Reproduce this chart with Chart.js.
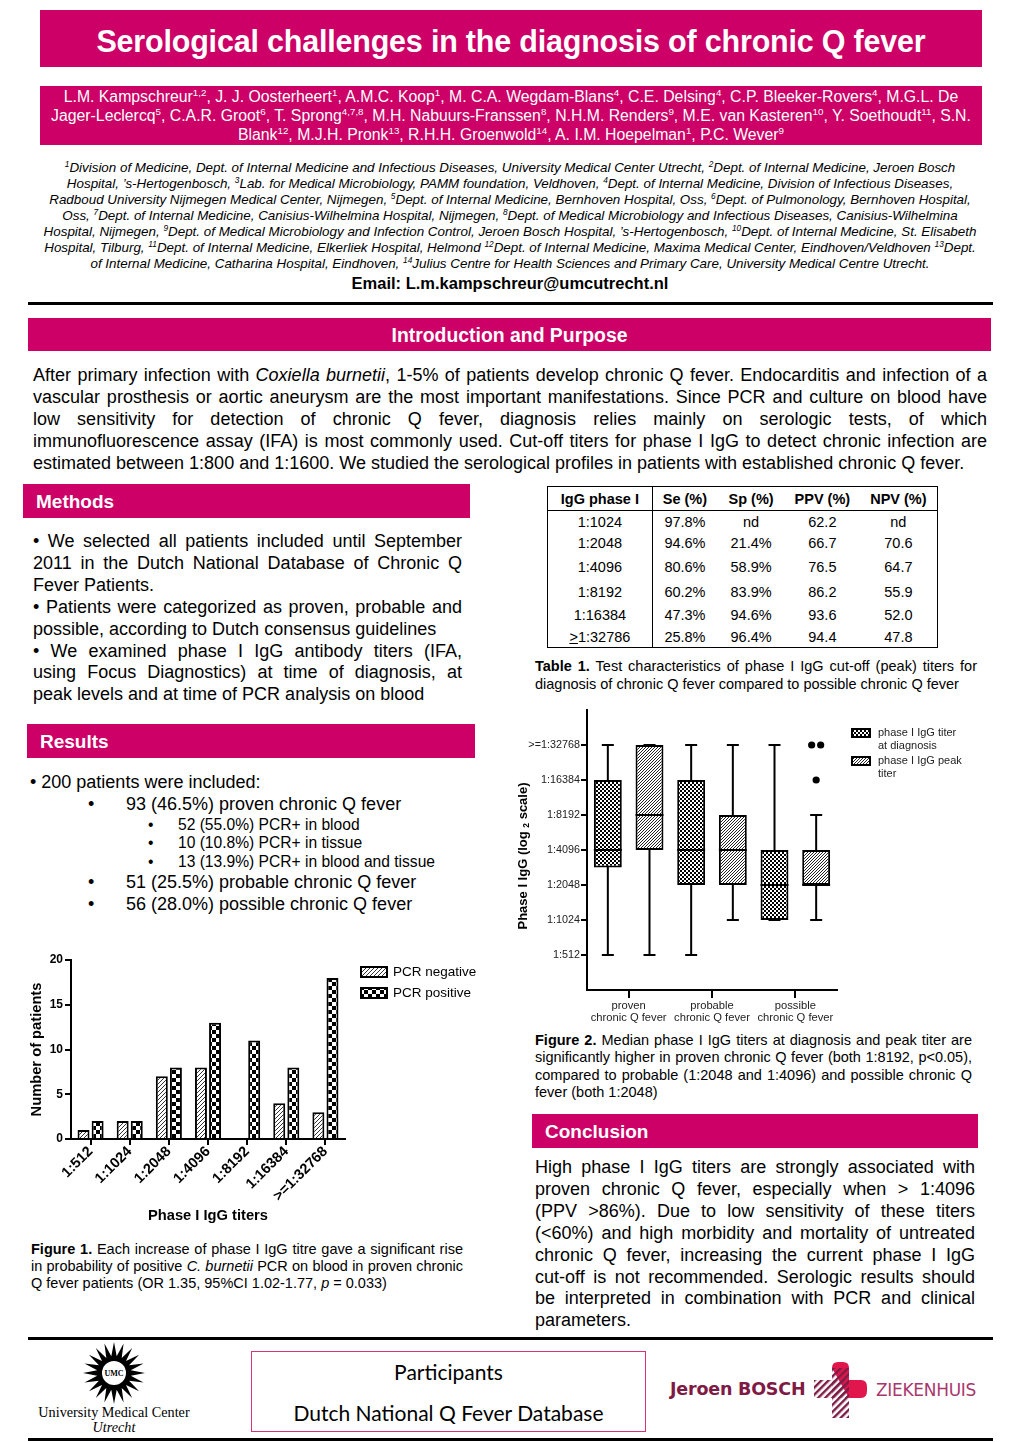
<!DOCTYPE html>
<html>
<head>
<meta charset="utf-8">
<script src="https://cdn.jsdelivr.net/npm/chart.js@4.4.1/dist/chart.umd.min.js"></script>
<style>
  body { margin: 0; background: #fff; font-family: "Liberation Sans", Arial, sans-serif; color: #000; }
  #page { position: relative; width: 1020px; height: 1442px; overflow: hidden; }
  .abs { position: absolute; }
  .band { position: absolute; background: #cc0066; color: #fff; }
  .rule { position: absolute; background: #000; height: 3px; left: 28px; width: 965px; }
  .jl { text-align: justify; text-align-last: justify; }
  .ll { text-align: left; }
  sup { font-size: 62%; line-height: 0; vertical-align: super; }
  #t1 { border-collapse: collapse; font-size: 14.5px; }
  #t1 th, #t1 td { text-align: center; padding: 0; }
  #t1 th { height: 23px; border-bottom: 1px solid #000; }
  #t1 td:first-child, #t1 th:first-child { border-right: 1px solid #000; }
</style>
</head>
<body>
<div id="page">
  <!-- header -->
  <div class="band" style="left:40px;top:10px;width:942px;height:57px;line-height:62px;text-align:center;font-weight:bold;font-size:30.5px;letter-spacing:-0.2px;">Serological challenges in the diagnosis of chronic Q fever</div>
  <div class="band" style="left:40px;top:86px;width:942px;height:59px;font-size:15.8px;line-height:19px;text-align:center;padding-top:1px;box-sizing:border-box;white-space:nowrap;">
    L.M. Kampschreur<sup>1,2</sup>, J. J. Oosterheert<sup>1</sup>, A.M.C. Koop<sup>1</sup>, M. C.A. Wegdam-Blans<sup>4</sup>, C.E. Delsing<sup>4</sup>, C.P. Bleeker-Rovers<sup>4</sup>, M.G.L. De<br>
    Jager-Leclercq<sup>5</sup>, C.A.R. Groot<sup>6</sup>, T. Sprong<sup>4,7,8</sup>, M.H. Nabuurs-Franssen<sup>8</sup>, N.H.M. Renders<sup>9</sup>, M.E. van Kasteren<sup>10</sup>, Y. Soethoudt<sup>11</sup>, S.N.<br>
    Blank<sup>12</sup>, M.J.H. Pronk<sup>13</sup>, R.H.H. Groenwold<sup>14</sup>, A. I.M. Hoepelman<sup>1</sup>, P.C. Wever<sup>9</sup>
  </div>
  <div class="abs" style="left:10px;top:160px;width:1000px;font-size:13.4px;font-style:italic;line-height:16px;text-align:center;white-space:nowrap;">
    <sup>1</sup>Division of Medicine, Dept. of Internal Medicine and Infectious Diseases, University Medical Center Utrecht, <sup>2</sup>Dept. of Internal Medicine, Jeroen Bosch<br>
    Hospital, ’s-Hertogenbosch, <sup>3</sup>Lab. for Medical Microbiology, PAMM foundation, Veldhoven, <sup>4</sup>Dept. of Internal Medicine, Division of Infectious Diseases,<br>
    Radboud University Nijmegen Medical Center, Nijmegen, <sup>5</sup>Dept. of Internal Medicine, Bernhoven Hospital, Oss, <sup>6</sup>Dept. of Pulmonology, Bernhoven Hospital,<br>
    Oss, <sup>7</sup>Dept. of Internal Medicine, Canisius-Wilhelmina Hospital, Nijmegen, <sup>8</sup>Dept. of Medical Microbiology and Infectious Diseases, Canisius-Wilhelmina<br>
    Hospital, Nijmegen, <sup>9</sup>Dept. of Medical Microbiology and Infection Control, Jeroen Bosch Hospital, ’s-Hertogenbosch, <sup>10</sup>Dept. of Internal Medicine, St. Elisabeth<br>
    Hospital, Tilburg, <sup>11</sup>Dept. of Internal Medicine, Elkerliek Hospital, Helmond <sup>12</sup>Dept. of Internal Medicine, Maxima Medical Center, Eindhoven/Veldhoven <sup>13</sup>Dept.<br>
    of Internal Medicine, Catharina Hospital, Eindhoven, <sup>14</sup>Julius Centre for Health Sciences and Primary Care, University Medical Centre Utrecht.
  </div>
  <div class="abs" style="left:0;top:274px;width:1020px;text-align:center;font-weight:bold;font-size:16.5px;">Email: L.m.kampschreur@umcutrecht.nl</div>
  <div class="rule" style="top:302px;"></div>

  <!-- intro -->
  <div class="band" style="left:28px;top:318px;width:963px;height:33px;line-height:34px;text-align:center;font-weight:bold;font-size:19.4px;">Introduction and Purpose</div>
  <div class="abs" style="left:33px;top:364px;width:954px;font-size:18px;line-height:22px;">
    <div class="jl">After primary infection with <i>Coxiella burnetii</i>, 1-5% of patients develop chronic Q fever. Endocarditis and infection of a</div>
    <div class="jl">vascular prosthesis or aortic aneurysm are the most important manifestations. Since PCR and culture on blood have</div>
    <div class="jl">low sensitivity for detection of chronic Q fever, diagnosis relies mainly on serologic tests, of which</div>
    <div class="jl">immunofluorescence assay (IFA) is most commonly used. Cut-off titers for phase I IgG to detect chronic infection are</div>
    <div class="ll">estimated between 1:800 and 1:1600. We studied the serological profiles in patients with established chronic Q fever.</div>
  </div>

  <!-- methods -->
  <div class="band" style="left:23px;top:484px;width:447px;height:34px;line-height:35px;font-weight:bold;font-size:19px;"><span style="margin-left:13px;">Methods</span></div>
  <div class="abs" style="left:33px;top:531px;width:429px;font-size:18px;line-height:21.9px;">
    <div class="jl">• We selected all patients included until September</div>
    <div class="jl">2011 in the Dutch National Database of Chronic Q</div>
    <div class="ll">Fever Patients.</div>
    <div class="jl">• Patients were categorized as proven, probable and</div>
    <div class="ll">possible, according to Dutch consensus guidelines</div>
    <div class="jl">• We examined phase I IgG antibody titers (IFA,</div>
    <div class="jl">using Focus Diagnostics) at time of diagnosis, at</div>
    <div class="ll">peak levels and at time of PCR analysis on blood</div>
  </div>

  <!-- results -->
  <div class="band" style="left:27px;top:724px;width:448px;height:34px;line-height:35px;font-weight:bold;font-size:19px;"><span style="margin-left:13px;">Results</span></div>
  <div class="abs" style="left:30px;top:771px;font-size:18px;line-height:22px;">• 200 patients were included:</div>
  <div class="abs" style="left:88px;top:793px;font-size:18px;line-height:22px;">•</div>
  <div class="abs" style="left:126px;top:793px;font-size:18px;line-height:22px;">93 (46.5%) proven chronic Q fever</div>
  <div class="abs" style="left:148px;top:816px;font-size:15.6px;line-height:18px;">•</div>
  <div class="abs" style="left:178px;top:816px;font-size:15.6px;line-height:18px;">52 (55.0%) PCR+ in blood</div>
  <div class="abs" style="left:148px;top:834px;font-size:15.6px;line-height:18px;">•</div>
  <div class="abs" style="left:178px;top:834px;font-size:15.6px;line-height:18px;">10 (10.8%) PCR+ in tissue</div>
  <div class="abs" style="left:148px;top:853px;font-size:15.6px;line-height:18px;">•</div>
  <div class="abs" style="left:178px;top:853px;font-size:15.6px;line-height:18px;">13 (13.9%) PCR+ in blood and tissue</div>
  <div class="abs" style="left:88px;top:871px;font-size:18px;line-height:22px;">•</div>
  <div class="abs" style="left:126px;top:871px;font-size:18px;line-height:22px;">51 (25.5%) probable chronic Q fever</div>
  <div class="abs" style="left:88px;top:893px;font-size:18px;line-height:22px;">•</div>
  <div class="abs" style="left:126px;top:893px;font-size:18px;line-height:22px;">56 (28.0%) possible chronic Q fever</div>

  <!-- figure 1 -->
  <div class="abs" style="left:20px;top:950px;width:470px;height:280px;"><canvas id="fig1" width="470" height="280"></canvas></div>
  <div class="abs" style="left:31px;top:1241px;width:432px;font-size:14.5px;line-height:17.2px;">
    <div class="jl"><b>Figure 1.</b> Each increase of phase I IgG titre gave a significant rise</div>
    <div class="jl">in probability of positive <i>C. burnetii</i> PCR on blood in proven chronic</div>
    <div class="ll">Q fever patients (OR 1.35, 95%CI 1.02-1.77, <i>p</i> = 0.033)</div>
  </div>

  <!-- table -->
  <div class="abs" style="left:547px;top:486px;">
    <table id="t1" style="border:1px solid #000;width:391px;">
      <colgroup><col style="width:105px"><col style="width:65px"><col style="width:68px"><col style="width:75px"><col style="width:78px"></colgroup>
      <thead><tr id="t1head"></tr></thead>
      <tbody id="t1body"></tbody>
    </table>
  </div>
  <div class="abs" style="left:535px;top:657px;width:442px;font-size:14.5px;line-height:18px;">
    <div class="jl"><b>Table 1.</b> Test characteristics of phase I IgG cut-off (peak) titers for</div>
    <div class="ll">diagnosis of chronic Q fever compared to possible chronic Q fever</div>
  </div>

  <!-- figure 2 -->
  <div class="abs" style="left:510px;top:700px;width:490px;height:330px;"><canvas id="fig2" width="490" height="330"></canvas></div>
  <div class="abs" style="left:535px;top:1032px;width:437px;font-size:14.5px;line-height:17.4px;">
    <div class="jl"><b>Figure 2.</b> Median phase I IgG titers at diagnosis and peak titer are</div>
    <div class="jl">significantly higher in proven chronic Q fever (both 1:8192, p&lt;0.05),</div>
    <div class="jl">compared to probable (1:2048 and 1:4096) and possible chronic Q</div>
    <div class="ll">fever (both 1:2048)</div>
  </div>

  <!-- conclusion -->
  <div class="band" style="left:532px;top:1114px;width:446px;height:34px;line-height:35px;font-weight:bold;font-size:19px;"><span style="margin-left:13px;">Conclusion</span></div>
  <div class="abs" style="left:535px;top:1157px;width:440px;font-size:18px;line-height:21.9px;">
    <div class="jl">High phase I IgG titers are strongly associated with</div>
    <div class="jl">proven chronic Q fever, especially when &gt; 1:4096</div>
    <div class="jl">(PPV &gt;86%). Due to low sensitivity of these titers</div>
    <div class="jl">(&lt;60%) and high morbidity and mortality of untreated</div>
    <div class="jl">chronic Q fever, increasing the current phase I IgG</div>
    <div class="jl">cut-off is not recommended. Serologic results should</div>
    <div class="jl">be interpreted in combination with PCR and clinical</div>
    <div class="ll">parameters.</div>
  </div>

  <!-- footer -->
  <div class="rule" style="top:1337px;"></div>
  <svg class="abs" style="left:82px;top:1341px;" width="64" height="64" viewBox="0 0 64 64">
    <polygon id="sun" fill="#000"></polygon>
    <circle cx="32" cy="32" r="12" fill="#fff"></circle>
    <text x="32" y="35" text-anchor="middle" font-family="Liberation Serif" font-size="8" font-weight="bold">UMC</text>
  </svg>
  <div class="abs" style="left:14px;top:1405px;width:200px;text-align:center;font-family:'Liberation Serif',serif;font-size:14.2px;line-height:15px;">University Medical Center<br><i>Utrecht</i></div>
  <div class="abs" style="left:251px;top:1351px;width:395px;height:81px;border:1px solid #d6337a;box-sizing:border-box;text-align:center;font-family:Lato,'Open Sans',sans-serif;font-size:21px;">
    <div style="position:absolute;left:0;width:100%;top:7px;">Participants</div>
    <div style="position:absolute;left:0;width:100%;top:48px;">Dutch National Q Fever Database</div>
  </div>
  <div class="abs" style="left:670px;top:1379px;font-family:'DejaVu Sans',sans-serif;font-weight:bold;font-size:17.5px;color:#7e1a44;letter-spacing:-0.2px;">Jeroen BOSCH</div>
  <svg class="abs" style="left:812px;top:1360px;" width="58" height="60" viewBox="0 0 58 60">
    <defs>
      <pattern id="jbs" width="5" height="5" patternUnits="userSpaceOnUse" patternTransform="rotate(45)">
        <rect x="0" y="0" width="2.4" height="5" fill="#7d1d45"></rect>
      </pattern>
    </defs>
    <path d="M20 8 Q20 2 26 2 L31 2 Q37 2 37 8 L37 20 L49 20 Q55 20 55 27 L55 31 Q55 38 49 38 L37 38 Z" fill="#e0164d"></path>
    <rect x="2" y="20" width="35" height="18" fill="url(#jbs)"></rect>
    <rect x="20" y="8" width="17" height="50" fill="url(#jbs)"></rect>
  </svg>
  <div class="abs" style="left:876px;top:1380px;font-family:'DejaVu Sans',sans-serif;font-size:17px;color:#a8386c;letter-spacing:-0.3px;">ZIEKENHUIS</div>
  <div class="rule" style="top:1438px;"></div>
</div>

<script>
// ---- Figure 1 data ----
const titerLabels = ['1:512', '1:1024', '1:2048', '1:4096', '1:8192', '1:16384', '>=1:32768'];
const pcrNegative = [1, 2, 7, 8, 0, 4, 3];
const pcrPositive = [2, 2, 8, 13, 11, 8, 18];

// ---- Figure 2 data (titers) ----
const groupLabels = [['proven', 'chronic Q fever'], ['probable', 'chronic Q fever'], ['possible', 'chronic Q fever']];
const titerTickValues = [512, 1024, 2048, 4096, 8192, 16384, 32768];
const titerTickLabels = ['1:512', '1:1024', '1:2048', '1:4096', '1:8192', '1:16384', '>=1:32768'];
const diagMin = [512, 512, 1024];
const diagQ1 = [2896, 2048, 1024];
const diagMedian = [4096, 4096, 2048];
const diagQ3 = [16384, 16384, 4096];
const diagMax = [32768, 32768, 32768];
const peakMin = [512, 1024, 1024];
const peakQ1 = [4096, 2048, 2048];
const peakMedian = [8192, 4096, 2048];
const peakQ3 = [32768, 8192, 4096];
const peakMax = [32768, 32768, 8192];
const diagOutliers = [[], [], []];
const peakOutliers = [[], [], [32768, 32768, 16384]];

// ---- Table 1 data ----
const tableHead = ['IgG phase I', 'Se (%)', 'Sp (%)', 'PPV (%)', 'NPV (%)'];
const cutoffs = ['1:1024', '1:2048', '1:4096', '1:8192', '1:16384', '<u>&gt;</u>1:32786'];
const sens = ['97.8%', '94.6%', '80.6%', '60.2%', '47.3%', '25.8%'];
const spec = ['nd', '21.4%', '58.9%', '83.9%', '94.6%', '96.4%'];
const ppv = ['62.2', '66.7', '76.5', '86.2', '93.6', '94.4'];
const npv = ['nd', '70.6', '64.7', '55.9', '52.0', '47.8'];
const rowHeights = [22, 21, 27, 23, 23, 21];

//! table
document.getElementById('t1head').innerHTML = tableHead.map(h => '<th>' + h + '</th>').join('');
document.getElementById('t1body').innerHTML = cutoffs.map((c, i) =>
  '<tr style="height:' + rowHeights[i] + 'px"><td>' + c + '</td><td>' + sens[i] + '</td><td>' + spec[i] +
  '</td><td>' + ppv[i] + '</td><td>' + npv[i] + '</td></tr>').join('');

//! UMC sun logo
(function () {
  const pts = [];
  const n = 20;
  for (let i = 0; i < n * 2; i++) {
    const a = (i / (n * 2)) * Math.PI * 2;
    const r = i % 2 === 0 ? 31 : 17;
    pts.push((32 + r * Math.cos(a)).toFixed(1) + ',' + (32 + r * Math.sin(a)).toFixed(1));
  }
  document.getElementById('sun').setAttribute('points', pts.join(' '));
})();

//! patterns
function checker(cell) {
  const c = document.createElement('canvas');
  c.width = cell * 2; c.height = cell * 2;
  const g = c.getContext('2d');
  g.fillStyle = '#fff'; g.fillRect(0, 0, c.width, c.height);
  g.fillStyle = '#000';
  g.fillRect(0, 0, cell, cell);
  g.fillRect(cell, cell, cell, cell);
  return g.createPattern(c, 'repeat');
}
function hatch(step, color) {
  const c = document.createElement('canvas');
  c.width = step; c.height = step;
  const g = c.getContext('2d');
  g.fillStyle = '#fff'; g.fillRect(0, 0, step, step);
  g.strokeStyle = color; g.lineWidth = 1;
  g.beginPath();
  g.moveTo(0, step); g.lineTo(step, 0);
  g.moveTo(-1, 1); g.lineTo(1, -1);
  g.moveTo(step - 1, step + 1); g.lineTo(step + 1, step - 1);
  g.stroke();
  return g.createPattern(c, 'repeat');
}

const FONT = "'Liberation Sans', Arial, sans-serif";
Chart.defaults.font.family = FONT;
Chart.defaults.color = '#000';

// ---- Figure 1 ----
const fig1Hatch = hatch(4, '#333');
const fig1Check = checker(4);

const fig1Legend = {
  id: 'fig1Legend',
  afterDraw(chart) {
    const ctx = chart.ctx;
    ctx.save();
    chart.data.datasets.forEach((ds, i) => {
      const y = 17 + i * 21;
      ctx.fillStyle = ds.backgroundColor;
      ctx.fillRect(341, y, 26, 10);
      ctx.strokeStyle = '#000'; ctx.lineWidth = 2;
      ctx.strokeRect(341, y, 26, 10);
      ctx.fillStyle = '#000';
      ctx.font = '13.5px ' + FONT;
      ctx.textBaseline = 'middle';
      ctx.fillText(ds.label, 373, y + 5);
    });
    ctx.restore();
  }
};

new Chart(document.getElementById('fig1'), {
  type: 'bar',
  data: {
    labels: titerLabels,
    datasets: [
      { label: 'PCR negative', data: pcrNegative, backgroundColor: fig1Hatch, borderColor: '#000', borderWidth: 2 },
      { label: 'PCR positive', data: pcrPositive, backgroundColor: fig1Check, borderColor: '#000', borderWidth: 2 }
    ]
  },
  options: {
    responsive: false,
    animation: false,
    categoryPercentage: 0.72,
    barPercentage: 0.85,
    layout: { padding: { left: 6, right: 145, top: 10, bottom: 0 } },
    plugins: { legend: { display: false }, tooltip: { enabled: false } },
    scales: {
      x: {
        grid: { display: true, drawOnChartArea: false, drawTicks: true, tickLength: 6, color: '#000', lineWidth: 2, offset: false },
        border: { color: '#000', width: 2 },
        ticks: { font: { size: 14.5, weight: 'bold' }, maxRotation: 45, minRotation: 45, padding: -2, autoSkip: false },
        title: { display: true, text: 'Phase I IgG titers', font: { size: 14.7, weight: 'bold' }, padding: { top: 0, bottom: 5 } },
        afterFit(scale) { scale.height = 91; }
      },
      y: {
        min: 0, max: 20,
        grid: { display: true, drawOnChartArea: false, drawTicks: true, tickLength: 6, color: '#000', lineWidth: 2 },
        border: { color: '#000', width: 2 },
        ticks: { stepSize: 5, font: { size: 12, weight: 'bold' }, padding: 2 },
        title: { display: true, text: 'Number of patients', font: { size: 14.7, weight: 'bold' }, padding: { top: 2, bottom: 0 } },
        afterFit(scale) { scale.width = 45; }
      }
    }
  },
  plugins: [fig1Legend]
});

// ---- Figure 2 ----
const fig2Check = checker(2);
const fig2Hatch = hatch(3, '#222');
const stats = [
  { min: diagMin, median: diagMedian, max: diagMax, outliers: diagOutliers },
  { min: peakMin, median: peakMedian, max: peakMax, outliers: peakOutliers }
];

const boxWhiskers = {
  id: 'boxWhiskers',
  beforeDatasetsDraw(chart) {
    const ctx = chart.ctx, y = chart.scales.y;
    ctx.save();
    ctx.strokeStyle = '#000'; ctx.lineWidth = 2; ctx.lineCap = 'butt';
    stats.forEach((s, d) => {
      chart.getDatasetMeta(d).data.forEach((bar, i) => {
        const x = bar.x, y0 = y.getPixelForValue(s.min[i]), y1 = y.getPixelForValue(s.max[i]);
        ctx.beginPath();
        ctx.moveTo(x, y0); ctx.lineTo(x, y1);
        ctx.moveTo(x - 6, y0); ctx.lineTo(x + 6, y0);
        ctx.moveTo(x - 6, y1); ctx.lineTo(x + 6, y1);
        ctx.stroke();
      });
    });
    ctx.restore();
  },
  afterDatasetsDraw(chart) {
    const ctx = chart.ctx, y = chart.scales.y;
    ctx.save();
    ctx.strokeStyle = '#000'; ctx.fillStyle = '#000'; ctx.lineWidth = 2;
    stats.forEach((s, d) => {
      chart.getDatasetMeta(d).data.forEach((bar, i) => {
        const ym = y.getPixelForValue(s.median[i]);
        ctx.beginPath();
        ctx.moveTo(bar.x - bar.width / 2, ym); ctx.lineTo(bar.x + bar.width / 2, ym);
        ctx.stroke();
        const seen = {};
        s.outliers[i].forEach(v => { seen[v] = (seen[v] || 0) + 1; });
        Object.keys(seen).forEach(v => {
          const cnt = seen[v];
          for (let k = 0; k < cnt; k++) {
            const ox = bar.x + (k - (cnt - 1) / 2) * 9;
            ctx.beginPath();
            ctx.arc(ox, y.getPixelForValue(+v), 3.6, 0, Math.PI * 2);
            ctx.fill();
          }
        });
      });
    });
    ctx.restore();
  },
  afterDraw(chart) {
    const ctx = chart.ctx, area = chart.chartArea;
    ctx.save();
    // y axis title with subscript
    ctx.translate(13, (area.top + area.bottom) / 2 + 6);
    ctx.rotate(-Math.PI / 2);
    ctx.fillStyle = '#000';
    ctx.textBaseline = 'middle';
    const big = 'bold 13px ' + FONT, small = 'bold 8.5px ' + FONT;
    const p1 = 'Phase I IgG (log ', p2 = '2', p3 = ' scale)';
    ctx.font = big; const w1 = ctx.measureText(p1).width, w3 = ctx.measureText(p3).width;
    ctx.font = small; const w2 = ctx.measureText(p2).width;
    let x = -(w1 + w2 + w3) / 2;
    ctx.font = big; ctx.fillText(p1, x, 0); x += w1;
    ctx.font = small; ctx.fillText(p2, x, 4); x += w2;
    ctx.font = big; ctx.fillText(p3, x, 0);
    ctx.restore();

    // legend
    ctx.save();
    const legendText = [['phase I IgG titer', 'at diagnosis'], ['phase I IgG peak', 'titer']];
    chart.data.datasets.forEach((ds, i) => {
      const top = 29 + i * 28;
      ctx.fillStyle = ds.backgroundColor;
      ctx.fillRect(342, top, 18, 8);
      ctx.strokeStyle = '#000'; ctx.lineWidth = 2;
      ctx.strokeRect(342, top, 18, 8);
      ctx.fillStyle = '#222';
      ctx.font = '11px ' + FONT;
      ctx.textBaseline = 'middle';
      legendText[i].forEach((t, k) => ctx.fillText(t, 368, top + 4 + k * 13));
    });
    ctx.restore();
  }
};

new Chart(document.getElementById('fig2'), {
  type: 'bar',
  data: {
    labels: groupLabels,
    datasets: [
      { label: 'phase I IgG titer at diagnosis', data: diagQ1.map((q, i) => [q, diagQ3[i]]), backgroundColor: fig2Check, borderColor: '#000', borderWidth: 2, borderSkipped: false },
      { label: 'phase I IgG peak titer', data: peakQ1.map((q, i) => [q, peakQ3[i]]), backgroundColor: fig2Hatch, borderColor: '#000', borderWidth: 2, borderSkipped: false }
    ]
  },
  options: {
    responsive: false,
    animation: false,
    categoryPercentage: 1.0,
    barPercentage: 0.67,
    layout: { padding: { left: 0, right: 163, top: 10, bottom: 0 } },
    plugins: { legend: { display: false }, tooltip: { enabled: false } },
    scales: {
      x: {
        grid: { display: true, drawOnChartArea: false, drawTicks: true, tickLength: 8, color: '#000', lineWidth: 2, offset: false },
        border: { color: '#000', width: 2 },
        ticks: { color: '#222', font: { size: 11.2, lineHeight: 1.15 }, maxRotation: 0, padding: 1, autoSkip: false },
        afterFit(scale) { scale.height = 40; }
      },
      y: {
        type: 'logarithmic',
        min: 256, max: 65536,
        afterBuildTicks(scale) { scale.ticks = titerTickValues.map(v => ({ value: v })); },
        grid: { display: true, drawOnChartArea: false, drawTicks: true, tickLength: 6, color: '#000', lineWidth: 2 },
        border: { color: '#000', width: 2 },
        ticks: { color: '#222', font: { size: 10.8 }, padding: 1, autoSkip: false, callback: (v, i) => titerTickLabels[i] },
        afterFit(scale) { scale.width = 77; }
      }
    }
  },
  plugins: [boxWhiskers]
});
</script>
</body>
</html>
